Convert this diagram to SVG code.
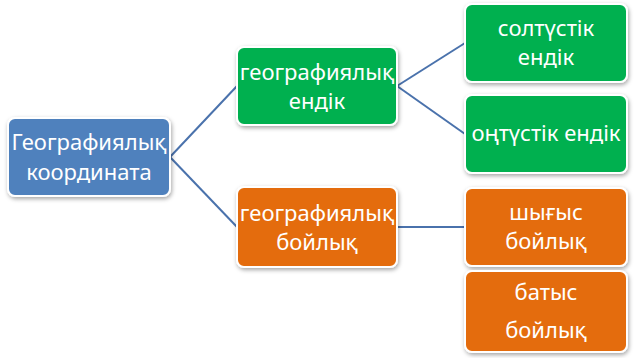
<svg xmlns="http://www.w3.org/2000/svg" width="634" height="358" viewBox="0 0 634 358">
<style>
.box{stroke:#ffffff;stroke-width:2;filter:url(#sh)}
.blue{fill:#4f81bd}
.green{fill:#00b050}
.orange{fill:#e46c0a}
.t{font-family:"Noto Sans","Open Sans",sans-serif;font-size:22px;fill:#ffffff;text-anchor:middle}
.c{stroke:#4a72ac;stroke-width:2;fill:none}
</style>
<defs>
<filter id="sh" x="-10%" y="-10%" width="130%" height="140%">
<feDropShadow dx="1" dy="2" stdDeviation="2" flood-color="#000" flood-opacity="0.35"/>
</filter>
</defs>
<g id="connectors">
<line class="c" x1="170" y1="157" x2="237" y2="86"/>
<line class="c" x1="170" y1="157" x2="237" y2="227"/>
<line class="c" x1="397" y1="86" x2="465" y2="43"/>
<line class="c" x1="397" y1="86" x2="465" y2="134"/>
<line class="c" x1="397" y1="227" x2="465" y2="227"/>
</g>
<g id="root">
<rect class="box blue" x="8" y="118" width="162" height="78" rx="7"/>
<text class="t" x="89" y="150">Географиялық</text>
<text class="t" x="89" y="180">координата</text>
</g>
<g id="latitude">
<rect class="box green" x="237" y="47" width="160" height="78" rx="7"/>
<text class="t" x="317" y="80">географиялық</text>
<text class="t" x="317" y="109">ендік</text>
</g>
<g id="longitude">
<rect class="box orange" x="237" y="187" width="160" height="80" rx="7"/>
<text class="t" x="317" y="221">географиялық</text>
<text class="t" x="317" y="250">бойлық</text>
</g>
<g id="north">
<rect class="box green" x="465" y="4" width="162" height="78" rx="7"/>
<text class="t" x="546" y="36">солтүстік</text>
<text class="t" x="546" y="65">ендік</text>
</g>
<g id="south">
<rect class="box green" x="465" y="95" width="162" height="78" rx="7"/>
<text class="t" x="546" y="141">оңтүстік ендік</text>
</g>
<g id="east">
<rect class="box orange" x="465" y="188" width="162" height="78" rx="7"/>
<text class="t" x="546" y="220">шығыс</text>
<text class="t" x="546" y="249">бойлық</text>
</g>
<g id="west">
<rect class="box orange" x="465" y="271" width="162" height="81" rx="7"/>
<text class="t" x="546" y="300">батыс</text>
<text class="t" x="546" y="338">бойлық</text>
</g>
</svg>
